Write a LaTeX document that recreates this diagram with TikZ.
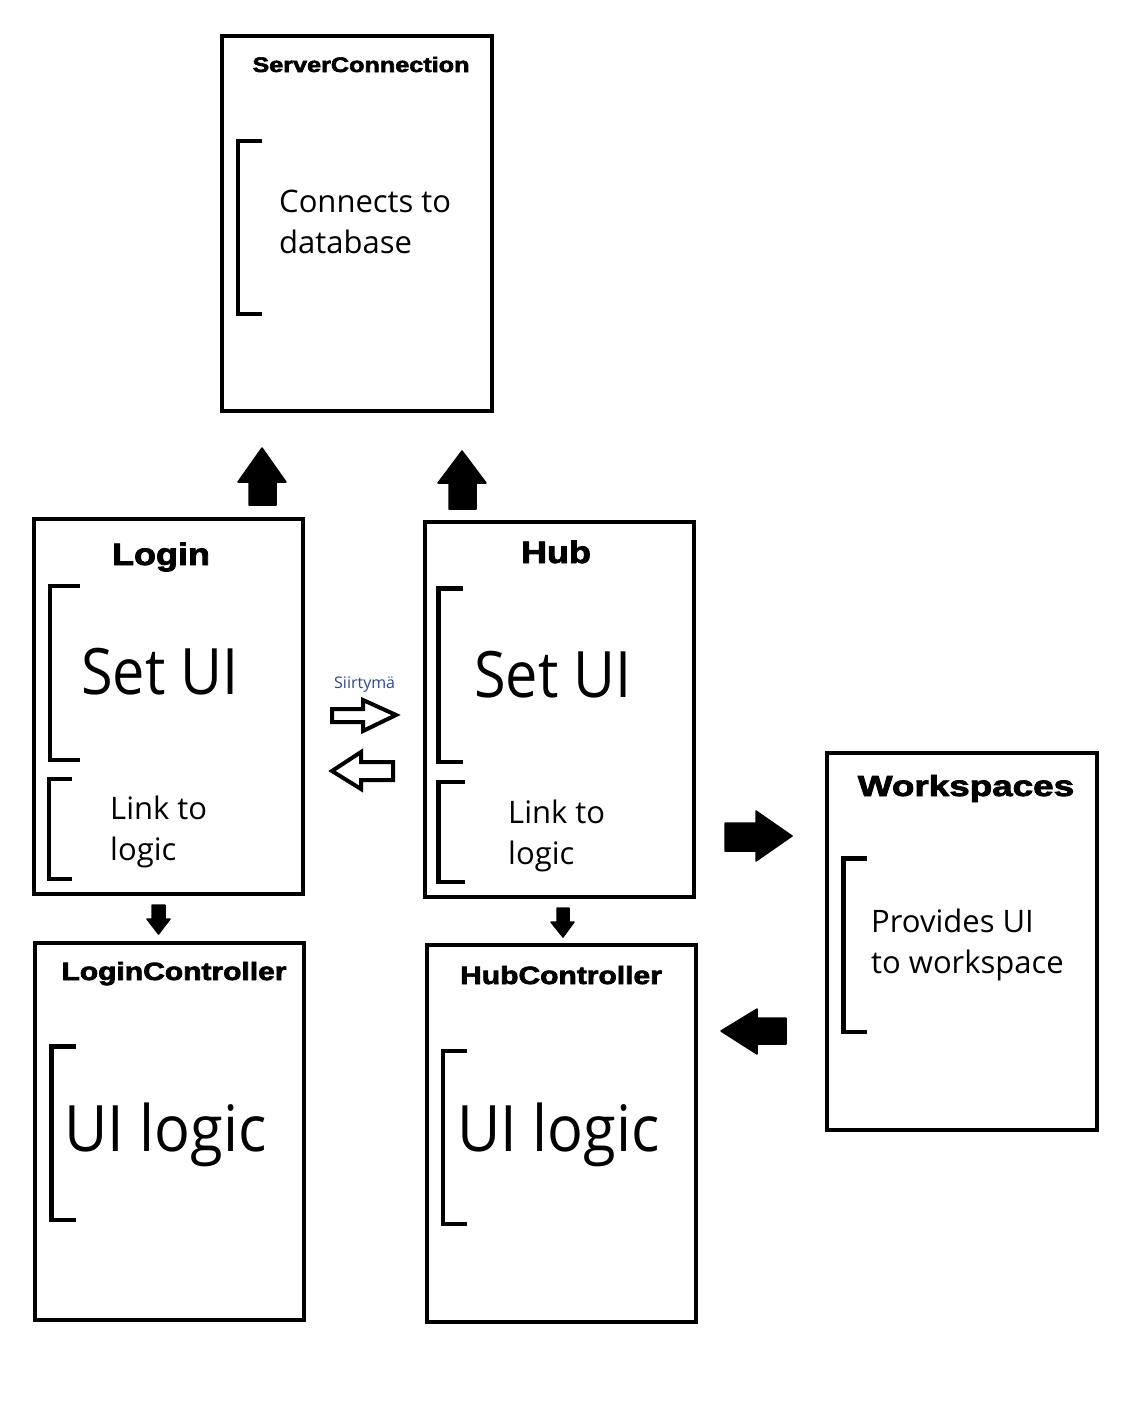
\documentclass[tikz,border=0pt]{standalone}
\usepackage{fontspec}
\setmainfont{Open Sans}
\newfontfamily\titlefont{Liberation Sans}[FakeBold=2.5]
\definecolor{siirt}{RGB}{46,74,139}
\begin{document}
\begin{tikzpicture}[x=1pt,y=-1pt,
  box/.style={draw,line width=4pt,minimum width=#1,inner sep=0pt},
  brk/.style={line width=4.5pt,line cap=butt,line join=miter},
  txt/.style={anchor=base west,inner sep=0pt,align=left},
  small/.style={font=\fontsize{31}{41}\selectfont},
  big/.style={font=\fontsize{64}{70}\selectfont},
  ttl/.style={anchor=base,inner sep=0pt},
  farrow/.style={fill=black,draw=black,line width=1.5pt,line join=round},
  oarrow/.style={draw=black,line width=4pt,line join=miter,fill=white}]
\useasboundingbox[fill=white] (0,0) rectangle (1146,1416);

% boxes
\node[box=270,minimum height=375] (sc) at (357,223.5) {};
\node[box=269,minimum height=375] (login) at (168.5,706.5) {};
\node[box=269,minimum height=375] (hub) at (559.5,709.5) {};
\node[box=270,minimum height=377] (ws) at (962,941.5) {};
\node[box=269,minimum height=377] (lc) at (169.5,1131.5) {};
\node[box=269,minimum height=377] (hc) at (561.5,1133.5) {};

% titles
\node[ttl] (t1) at (361,72) {\titlefont\bfseries\fontsize{21}{25}\selectfont\scalebox{1.2}[1]{ServerConnection}};
\node[ttl] (t2) at (161,565) {\titlefont\bfseries\fontsize{31}{36}\selectfont\scalebox{1.16}[1]{Login}};
\node[ttl] (t3) at (556,563) {\titlefont\bfseries\fontsize{31}{36}\selectfont\scalebox{1.16}[1]{Hub}};
\node[ttl] (t4) at (966,796) {\titlefont\bfseries\fontsize{29}{34}\selectfont\scalebox{1.27}[1]{Workspaces}};
\node[ttl] (t5) at (174,980) {\titlefont\bfseries\fontsize{25}{30}\selectfont\scalebox{1.2}[1]{LoginController}};
\node[ttl] (t6) at (561,984) {\titlefont\bfseries\fontsize{25}{30}\selectfont\scalebox{1.2}[1]{HubController}};

% brackets
\draw[brk] (262,141) -| (238,314) -- (262,314);
\draw[brk] (80,586) -| (50,760) -- (80,760);
\draw[brk] (72,779) -| (49,879) -- (72,879);
\draw[brk] (463,588.5) -| (438.5,762) -- (463,762);
\draw[brk] (465,782) -| (438.5,882) -- (465,882);
\draw[brk] (867,858.5) -| (843.5,1032) -- (867,1032);
\draw[brk] (76,1046.5) -| (51.5,1220) -- (76,1220);
\draw[brk] (467,1051) -| (443,1224) -- (467,1224);

% body texts (base anchor = last line)
\node[txt,small] (c1) at (279,253) {Connects to\\database};
\node[txt,big] (c2) at (81,694) {\scalebox{0.9}[1]{Set UI}};
\node[txt,small] (c3) at (110,860) {Link to\\logic};
\node[txt,big] (c4) at (474,697) {\scalebox{0.9}[1]{Set UI}};
\node[txt,small] (c5) at (508,864) {Link to\\logic};
\node[txt,small] (c6) at (871,973) {Provides UI\\to workspace};
\node[txt,big] (c7) at (64,1151) {\scalebox{0.93}[1]{UI logic}};
\node[txt,big] (c8) at (457,1151) {\scalebox{0.93}[1]{UI logic}};
\node[txt,text=siirt,font=\fontsize{16}{19}\selectfont] (lab) at (334,688) {Siirtymä};

% filled block arrows
\draw[farrow] (262,448) -- (238,482) -- (249,482) -- (249,505) -- (276,505) -- (276,482) -- (286,482) -- cycle;
\draw[farrow] (462,451) -- (438,483) -- (449,483) -- (449,509) -- (476,509) -- (476,483) -- (486,483) -- cycle;
\draw[farrow] (792,836) -- (756,811) -- (756,823) -- (725,823) -- (725,851) -- (756,851) -- (756,861) -- cycle;
\draw[farrow] (721,1031) -- (757,1009) -- (757,1018) -- (786,1018) -- (786,1044) -- (757,1044) -- (757,1054) -- cycle;
\draw[farrow] (158.5,934) -- (147,919) -- (152,919) -- (152,905) -- (165,905) -- (165,919) -- (170,919) -- cycle;
\draw[farrow] (563,937) -- (551,922) -- (557,922) -- (557,908) -- (569,908) -- (569,922) -- (574,922) -- cycle;

% outline arrows (Siirtymä)
\draw[oarrow] (396,715) -- (363,700) -- (363,709) -- (332,709) -- (332,722) -- (363,722) -- (363,731) -- cycle;
\draw[oarrow] (332,771) -- (361,752) -- (361,762) -- (393,762) -- (393,780) -- (361,780) -- (361,789) -- cycle;
\end{tikzpicture}
\end{document}
